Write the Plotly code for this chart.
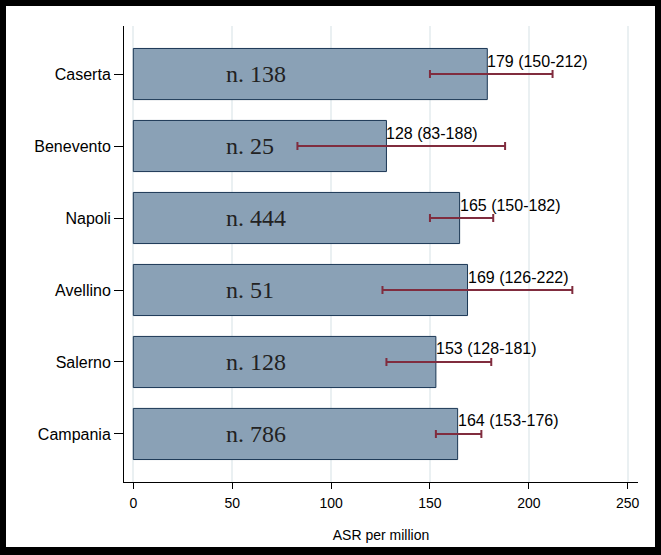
import plotly.graph_objects as go

# data (top to bottom as shown)
regions = ["Caserta", "Benevento", "Napoli", "Avellino", "Salerno", "Campania"]
asr = [179, 128, 165, 169, 153, 164]
ci_low = [150, 83, 150, 126, 128, 153]
ci_high = [212, 188, 182, 222, 181, 176]
cases = [138, 25, 444, 51, 128, 786]

W, H = 661, 555
ML, MR, MT, MB = 124, 23, 26, 73
pw, ph = W - ML - MR, H - MT - MB

sans = "Liberation Sans, Arial, sans-serif"
narrow = "Liberation Sans Narrow, Arial Narrow, Liberation Sans, sans-serif"

fig = go.Figure()

fig.add_trace(go.Bar(
    x=asr,
    y=regions,
    orientation="h",
    width=0.71,
    marker=dict(color="rgb(138,161,182)", line=dict(color="rgb(26,54,84)", width=1)),
    error_x=dict(
        type="data",
        symmetric=False,
        array=[h - v for h, v in zip(ci_high, asr)],
        arrayminus=[v - l for v, l in zip(asr, ci_low)],
        color="rgb(128,44,62)",
        thickness=2,
        width=4,
    ),
    hoverinfo="skip",
    showlegend=False,
))

# value labels and case counts
for r, v, lo, hi, n in zip(regions, asr, ci_low, ci_high, cases):
    fig.add_annotation(
        x=v, y=r, text=f"{v} ({lo}-{hi})",
        xanchor="left", yanchor="middle", yshift=13, xshift=-2,
        showarrow=False,
        font=dict(family=sans, size=16, color="black"),
    )
    fig.add_annotation(
        x=46, y=r, text=f"n. {n}",
        xanchor="left", yanchor="middle", yshift=0,
        showarrow=False,
        font=dict(family="Liberation Serif, serif", size=24, color="#222222"),
    )

# black outer frame: black paper with white inner panel
fig.add_shape(
    type="rect", xref="paper", yref="paper", layer="below",
    x0=(6 - ML) / pw, x1=(655 - ML) / pw,
    y0=(H - MB - 547) / ph, y1=(H - MB - 6) / ph,
    fillcolor="white", line=dict(width=0),
)

fig.update_layout(
    width=W, height=H,
    margin=dict(l=ML, r=MR, t=MT, b=MB, autoexpand=False),
    paper_bgcolor="black",
    plot_bgcolor="white",
    xaxis=dict(
        range=[-4.7, 255.2],
        tickvals=[0, 50, 100, 150, 200, 250],
        showgrid=True, gridcolor="rgb(234,240,242)", gridwidth=2,
        zeroline=False, automargin=False,
        showline=True, linecolor="black", linewidth=1,
        ticks="outside", ticklen=6, tickcolor="black",
        ticklabelstandoff=2,
        tickfont=dict(family=narrow, size=14, color="black"),
        title=dict(text="ASR per million", standoff=20,
                   font=dict(family=narrow, size=14, color="black")),
    ),
    yaxis=dict(
        categoryorder="array", categoryarray=regions,
        range=[5.667, -0.667],
        showgrid=False, zeroline=False, automargin=False,
        showline=True, linecolor="black", linewidth=1,
        ticks="outside", ticklen=9, tickcolor="black",
        tickfont=dict(family=sans, size=16, color="black"),
    ),
)

# drop the default page margin so the figure sits at the window origin
fig.write_html("out.html", config={"displayModeBar": False},
               post_script="document.body.style.margin='0';")
